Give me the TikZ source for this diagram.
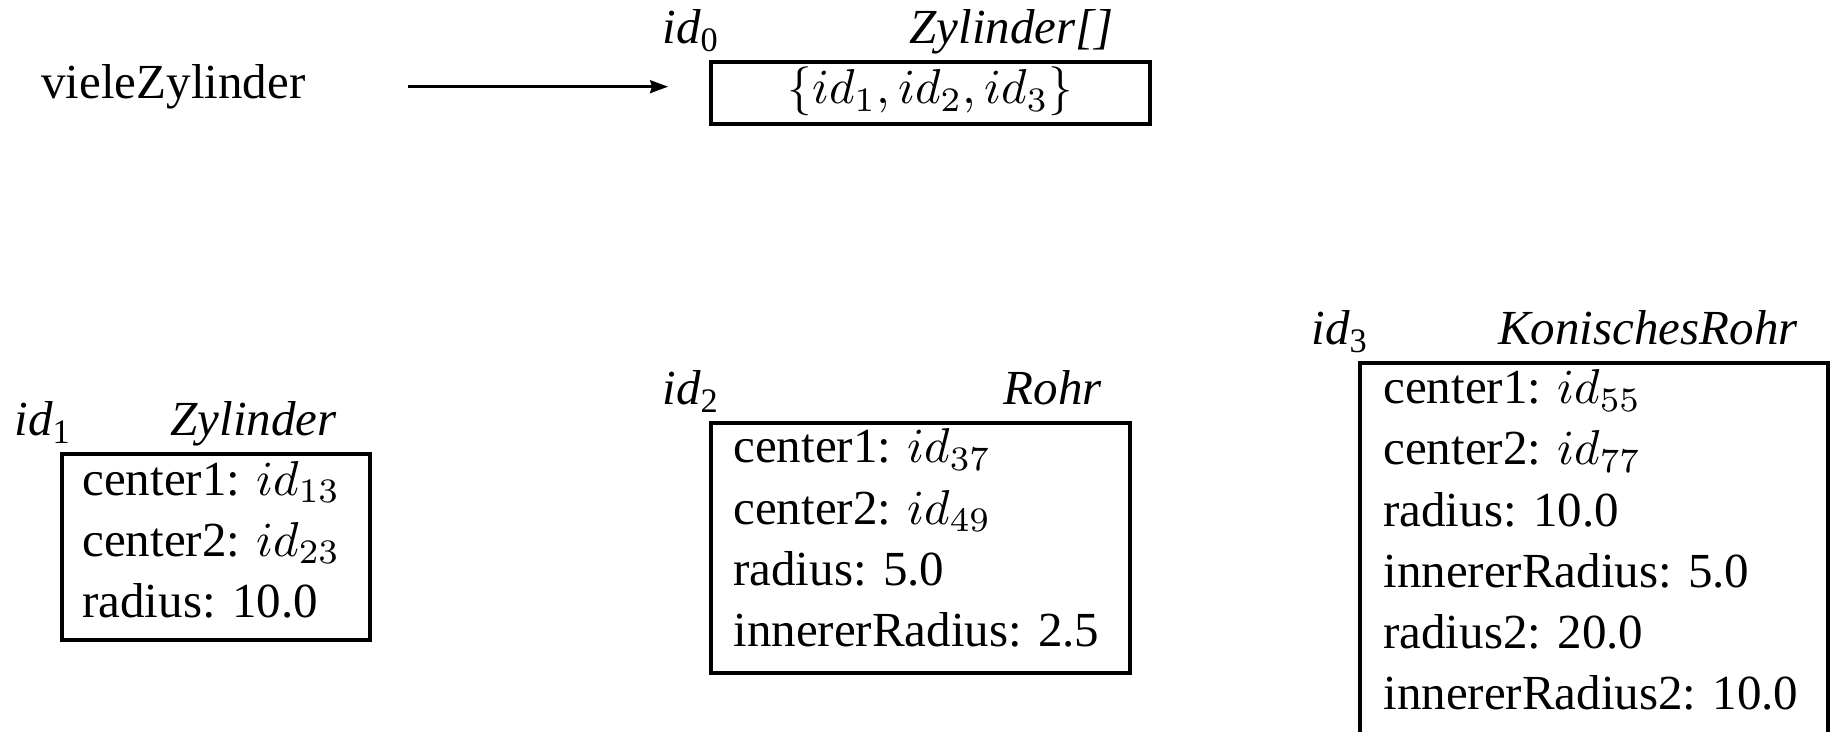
\documentclass[tikz,border=0pt]{standalone}
\usepackage[no-math]{fontspec}
\setmainfont{Liberation Serif}
\usetikzlibrary{arrows.meta}
\tikzset{
  objbox/.style={draw=black, line width=1.6pt, inner sep=0pt, outer sep=0pt, anchor=north west},
  txt/.style={inner sep=0pt, anchor=base west, font=\fontsize{24.5}{30}\selectfont},
  ttl/.style={inner sep=0pt, anchor=base east, font=\fontsize{24.5}{30}\selectfont\itshape},
  ref/.style={line width=1.2pt, -{Stealth[length=9pt,width=6.5pt,inset=1pt]}}
}
\newcommand{\idlab}[1]{\textit{id}\textsubscript{#1}}
\newcommand{\bigmath}[1]{\scalebox{2.45}{\fontsize{10}{12}\selectfont$#1$}}
\begin{document}
\begin{tikzpicture}[x=0.5pt,y=-0.5pt]
\useasboundingbox (0,0) rectangle (1831,732);
% variable and reference
\node[txt] (vz) at (41,99) {vieleZylinder};
\coordinate (arrS) at (408,86.7);
\coordinate (arrE) at (668,86.7);
\draw[ref] (arrS) -- (arrE);
% array object
\node[objbox, minimum width=219.5pt, minimum height=31pt] (b0) at (711,62) {};
\node[txt] (id0) at (662,44) {\idlab{0}};
\node[ttl] (t0) at (1114,44) {Zylinder[]};
\node[txt, anchor=base] (c0) at (930.5,104) {\bigmath{\{id_1, id_2, id_3\}}};
% Zylinder
\node[objbox, minimum width=154pt, minimum height=93pt] (b1) at (62,454) {};
\node[txt] (id1) at (14,436) {\idlab{1}};
\node[ttl] (t1) at (337,436) {Zylinder};
\node[txt] (b1l1) at (82,495) {center1: \bigmath{id_{13}}};
\node[txt] (b1l2) at (82,556) {center2: \bigmath{id_{23}}};
\node[txt] (b1l3) at (82,617) {radius: 10.0};
% Rohr
\node[objbox, minimum width=209.5pt, minimum height=125pt] (b2) at (711,423) {};
\node[txt] (id2) at (662,405) {\idlab{2}};
\node[ttl] (t2) at (1102,405) {Rohr};
\node[txt] (b2l1) at (733,463) {center1: \bigmath{id_{37}}};
\node[txt] (b2l2) at (733,524) {center2: \bigmath{id_{49}}};
\node[txt] (b2l3) at (733,585) {radius: 5.0};
\node[txt] (b2l4) at (733,646) {innererRadius: 2.5};
% KonischesRohr
\node[objbox, minimum width=234pt, minimum height=195pt] (b3) at (1360,363) {};
\node[txt] (id3) at (1311,345) {\idlab{3}};
\node[ttl] (t3) at (1798,345) {KonischesRohr};
\node[txt] (b3l1) at (1383,404) {center1: \bigmath{id_{55}}};
\node[txt] (b3l2) at (1383,465) {center2: \bigmath{id_{77}}};
\node[txt] (b3l3) at (1383,526) {radius: 10.0};
\node[txt] (b3l4) at (1383,587) {innererRadius: 5.0};
\node[txt] (b3l5) at (1383,648) {radius2: 20.0};
\node[txt] (b3l6) at (1383,709) {innererRadius2: 10.0};
\end{tikzpicture}
\end{document}
